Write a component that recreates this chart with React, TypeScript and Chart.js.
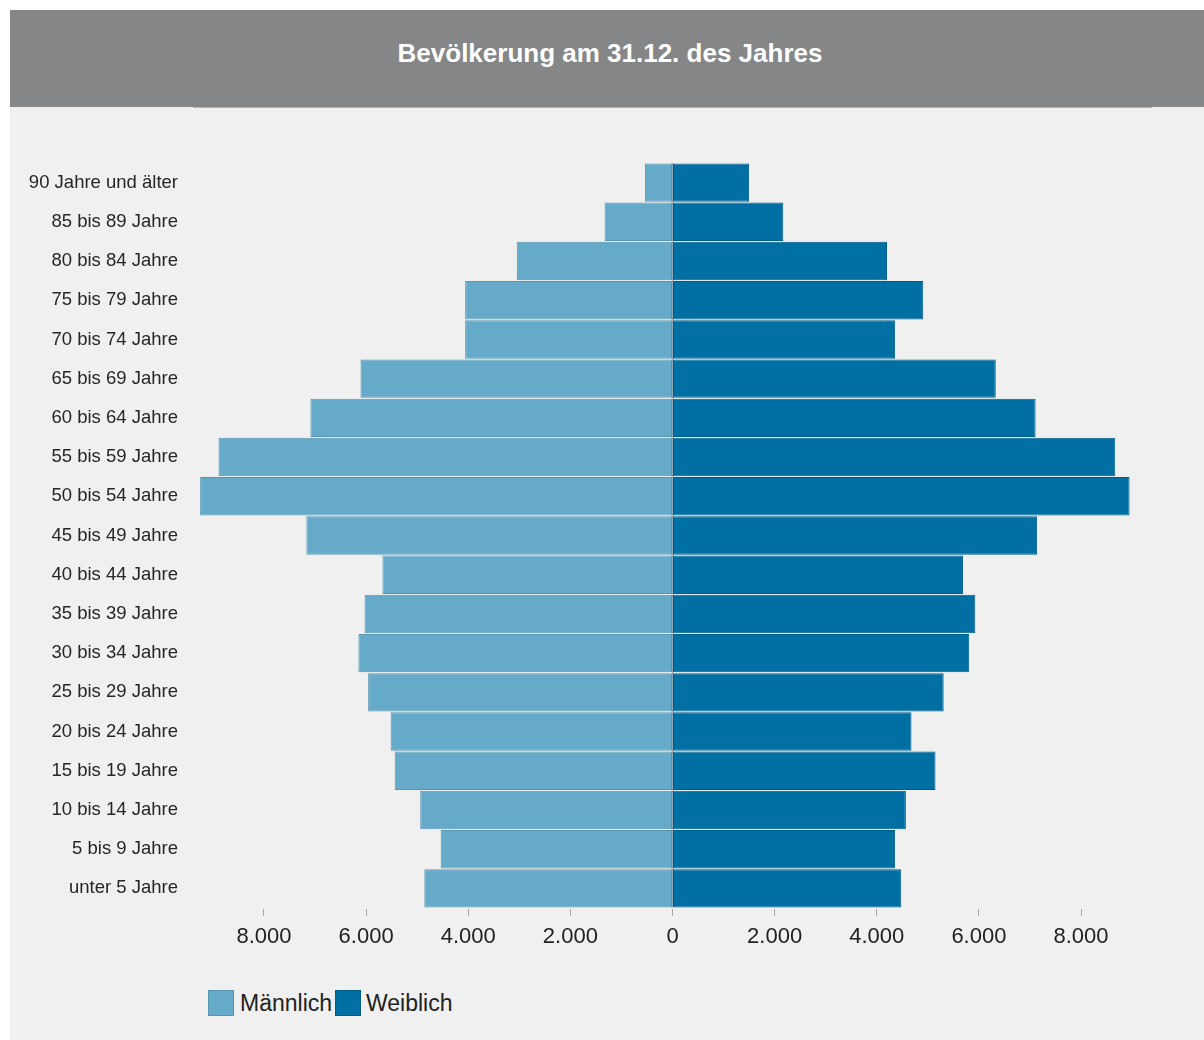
import React, { useEffect, useRef } from "react";
import { Chart, registerables } from "chart.js";

Chart.register(...registerables);

const categories = [
  "90 Jahre und älter",
  "85 bis 89 Jahre",
  "80 bis 84 Jahre",
  "75 bis 79 Jahre",
  "70 bis 74 Jahre",
  "65 bis 69 Jahre",
  "60 bis 64 Jahre",
  "55 bis 59 Jahre",
  "50 bis 54 Jahre",
  "45 bis 49 Jahre",
  "40 bis 44 Jahre",
  "35 bis 39 Jahre",
  "30 bis 34 Jahre",
  "25 bis 29 Jahre",
  "20 bis 24 Jahre",
  "15 bis 19 Jahre",
  "10 bis 14 Jahre",
  "5 bis 9 Jahre",
  "unter 5 Jahre",
];

const maleValues = [540, 1330, 3050, 4060, 4060, 6110, 7090, 8890, 9250, 7170, 5680, 6030, 6150, 5960, 5520, 5440, 4940, 4540, 4860];
const femaleValues = [1500, 2170, 4200, 4910, 4360, 6330, 7110, 8670, 8950, 7140, 5690, 5930, 5810, 5310, 4680, 5150, 4570, 4360, 4480];

const xTickValues = [-8000, -6000, -4000, -2000, 0, 2000, 4000, 6000, 8000];
const axisLimit = 9370;

const title = "Bevölkerung am 31.12. des Jahres";
const seriesNames = ["Männlich", "Weiblich"];
const seriesColors = ["#66aac9", "#0070a4"];
const seriesBorders = ["#5893b0", "#005c88"];

const FONT = "'Liberation Sans', Arial, sans-serif";

function formatDE(v: number): string {
  const a = Math.abs(v);
  return a.toString().replace(/\B(?=(\d{3})+(?!\d))/g, ".");
}

export default function App() {
  const canvasRef = useRef<HTMLCanvasElement | null>(null);

  useEffect(() => {
    if (!canvasRef.current) return;
    const chart = new Chart(canvasRef.current, {
      type: "bar",
      data: {
        labels: categories,
        datasets: [
          {
            label: seriesNames[0],
            data: maleValues.map((v) => -v),
            backgroundColor: seriesColors[0],
            borderColor: seriesBorders[0],
            borderWidth: 1,
            borderSkipped: false,
            barPercentage: 0.98,
            categoryPercentage: 1,
          },
          {
            label: seriesNames[1],
            data: femaleValues,
            backgroundColor: seriesColors[1],
            borderColor: seriesBorders[1],
            borderWidth: 1,
            borderSkipped: false,
            barPercentage: 0.98,
            categoryPercentage: 1,
          },
        ],
      },
      options: {
        indexAxis: "y",
        animation: false,
        responsive: false,
        maintainAspectRatio: false,
        layout: { padding: { left: 0, right: 53, top: 56, bottom: 0 } },
        plugins: {
          legend: { display: false },
          title: { display: false },
          tooltip: { enabled: false },
        },
        scales: {
          x: {
            stacked: true,
            min: -axisLimit,
            max: axisLimit,
            afterBuildTicks: (scale: any) => {
              scale.ticks = xTickValues.map((v) => ({ value: v }));
            },
            afterFit: (scale: any) => {
              scale.height = 59;
            },
            border: { display: true, color: "#b3b3b3", width: 2 },
            grid: {
              display: true,
              drawOnChartArea: true,
              drawTicks: true,
              tickLength: 8,
              tickColor: "#a9a9a9",
              tickWidth: 1,
              z: 1,
              color: (ctx: any) => (ctx.tick && ctx.tick.value === 0 ? "#8fa6b4" : "rgba(0,0,0,0)"),
              lineWidth: 1,
            },
            ticks: {
              autoSkip: false,
              maxRotation: 0,
              padding: 8,
              color: "#222222",
              font: { family: FONT, size: 22 },
              callback: (v: any) => formatDE(Number(v)),
            },
          },
          y: {
            stacked: true,
            afterFit: (scale: any) => {
              scale.width = 184;
            },
            border: { display: false },
            grid: { display: false, drawTicks: false },
            ticks: {
              autoSkip: false,
              padding: 16,
              color: "#262626",
              font: { family: FONT, size: 18.5 },
            },
          },
        },
      },
    });
    return () => chart.destroy();
  }, []);

  const legendItem = (i: number, boxLeft: number, textLeft: number) => (
    <React.Fragment key={i}>
      <div
        style={{
          position: "absolute",
          left: boxLeft,
          top: 990,
          width: 24,
          height: 24,
          background: seriesColors[i],
          border: `1px solid ${seriesBorders[i]}`,
        }}
      />
      <div
        style={{
          position: "absolute",
          left: textLeft,
          top: 989,
          height: 28,
          lineHeight: "28px",
          fontFamily: FONT,
          fontSize: 23,
          color: "#222222",
          whiteSpace: "nowrap",
        }}
      >
        {seriesNames[i]}
      </div>
    </React.Fragment>
  );

  return (
    <div style={{ position: "absolute", left: 0, top: 0, width: 1204, height: 1040, background: "#ffffff", overflow: "hidden" }}>
      <div style={{ position: "absolute", left: 10, top: 10, width: 1194, height: 1030, background: "#eff0ef" }} />
      <div
        style={{
          position: "absolute",
          left: 10,
          top: 10,
          width: 1194,
          height: 97,
          background: "#858687",
        }}
      >
        <div
          style={{
            position: "absolute",
            left: 6,
            right: 0,
            top: 0,
            height: 86,
            lineHeight: "86px",
            textAlign: "center",
            fontFamily: FONT,
            fontWeight: "bold",
            fontSize: 26,
            color: "#ffffff",
            whiteSpace: "nowrap",
          }}
        >
          {title}
        </div>
      </div>
      <canvas
        ref={canvasRef}
        width={1194}
        height={860}
        style={{ position: "absolute", left: 10, top: 107, width: 1194, height: 860 }}
      />
      {legendItem(0, 208, 240)}
      {legendItem(1, 335, 366)}
    </div>
  );
}
